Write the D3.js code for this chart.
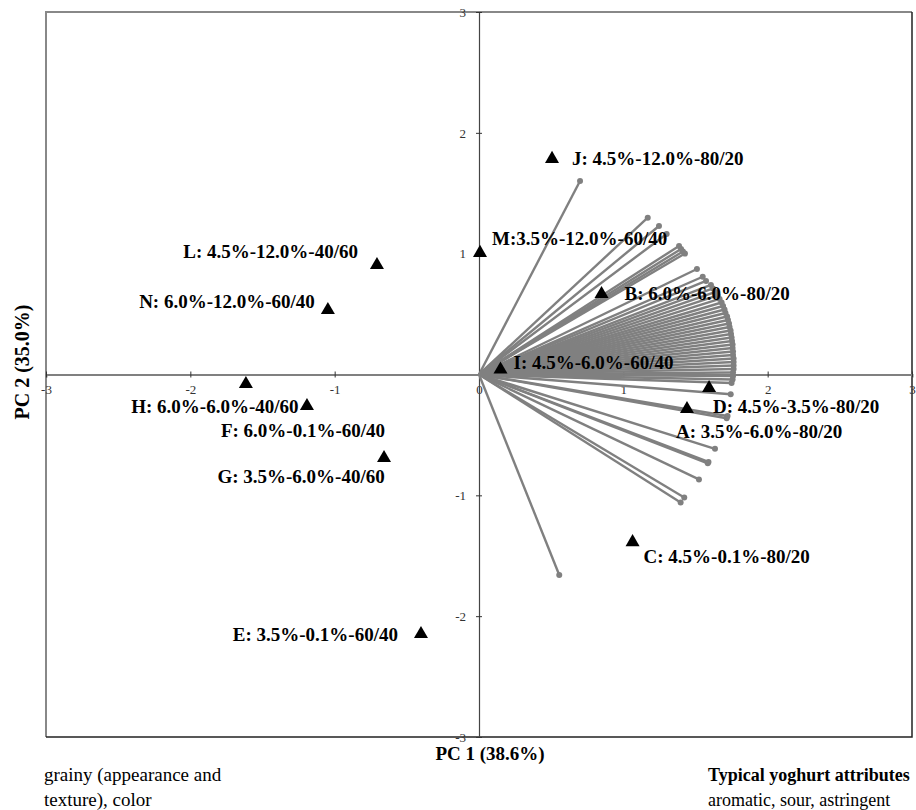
<!DOCTYPE html>
<html>
<head>
<meta charset="utf-8">
<script src="https://cdn.jsdelivr.net/npm/d3@7"></script>
<style>
  body { margin: 0; background: #fff; }
  svg text { font-family: "Liberation Serif", "Times New Roman", serif; }
</style>
</head>
<body>
<div class="chart"></div>
<script>
//Sample scores (triangles)
var sampleNames = ["J: 4.5%-12.0%-80/20", "M:3.5%-12.0%-60/40", "L: 4.5%-12.0%-40/60", "N: 6.0%-12.0%-60/40",
    "B: 6.0%-6.0%-80/20", "I: 4.5%-6.0%-60/40", "H: 6.0%-6.0%-40/60", "F: 6.0%-0.1%-60/40",
    "G: 3.5%-6.0%-40/60", "D: 4.5%-3.5%-80/20", "A: 3.5%-6.0%-80/20", "C: 4.5%-0.1%-80/20", "E: 3.5%-0.1%-60/40"];
var sampleX = [0.506, 0.007, -0.707, -1.047, 0.849, 0.149, -1.615, -1.192, -0.658, 1.594, 1.441, 1.064, -0.402];
var sampleY = [1.784, 1.006, 0.906, 0.534, 0.666, 0.041, -0.079, -0.261, -0.691, -0.112, -0.286, -1.387, -2.148];

//Attribute loadings (grey vectors)
var loadingX = [0.700, 1.169, 1.247, 1.300, 1.386, 1.400, 1.413, 1.427, 1.510, 1.550, 1.573,
    1.607, 1.621, 1.639, 1.653, 1.667, 1.681, 1.691, 1.701, 1.708, 1.719, 1.725, 1.732, 1.736, 1.743,
    1.746, 1.750, 1.753, 1.757, 1.757, 1.760, 1.760, 1.764, 1.764, 1.764, 1.764, 1.760, 1.760, 1.757, 1.750,
    1.744, 1.722, 1.716, 1.635, 1.590, 1.585, 1.524, 1.422, 1.397, 0.556];
var loadingY = [1.601, 1.298, 1.229, 1.163, 1.064, 1.039, 1.018, 1.001, 0.873, 0.809, 0.774,
    0.741, 0.712, 0.683, 0.654, 0.625, 0.596, 0.567, 0.538, 0.509, 0.480, 0.451, 0.422, 0.393, 0.364,
    0.335, 0.306, 0.277, 0.248, 0.219, 0.190, 0.161, 0.132, 0.103, 0.074, 0.046, 0.017, -0.012, -0.041, -0.070,
    -0.164, -0.343, -0.362, -0.615, -0.724, -0.735, -0.868, -1.018, -1.060, -1.659];

//Axis ticks and titles
var tickValues = [-3, -2, -1, 0, 1, 2, 3];
var xTitle = "PC 1 (38.6%)";
var yTitle = "PC 2 (35.0%)";
var leftNote = ["grainy (appearance and", "texture), color"];
var rightNoteTitle = "Typical yoghurt attributes";
var rightNote = "aromatic, sour, astringent";

//Width and height
var w = 916;
var h = 810;

var svg = d3.select(".chart")
    .append("svg")
    .attr("width", w)
    .attr("height", h);

var x = d3.scaleLinear().domain([-3, 3]).range([46, 912]);
var y = d3.scaleLinear().domain([-3, 3]).range([737, 12]);

var samples = sampleNames.map((n, i) => ({name: n, x: sampleX[i], y: sampleY[i]}));
var loadings = loadingX.map((v, i) => ({x: v, y: loadingY[i]}));

//Label placement relative to triangle (pixels)
var labelPos = {
    J: [20, 6, "start"], M: [12, -8, "start"], L: [-19, -7, "end"], N: [-13, -2, "end"],
    B: [23, 6, "start"], I: [13, -1, "start"], H: [-31, 29, "middle"], F: [-4, 31, "middle"],
    G: [-83, 25, "middle"], D: [4, 25, "start"], A: [-11, 29, "start"], C: [11, 21, "start"],
    E: [-23, 7, "end"]
};

//Plot frame
svg.append("path")
    .attr("d", `M${x(-3)},${y(-3)}V${y(3)}H${x(3)}`)
    .attr("fill", "none").attr("stroke", "#888").attr("stroke-width", 2);
svg.append("path")
    .attr("d", `M${x(3)},${y(3)}V${y(-3)}H${x(-3)}`)
    .attr("fill", "none").attr("stroke", "#222").attr("stroke-width", 1.5);

//X axis through origin
var xAxis = svg.append("g")
    .attr("transform", `translate(0, ${y(0)})`)
    .call(d3.axisBottom(x).tickValues(tickValues).tickSize(3).tickFormat(d3.format("d")));
xAxis.select(".domain").attr("stroke", "#808080").attr("stroke-width", 2);
xAxis.selectAll(".tick line").attr("y1", -3).attr("stroke", "#333");
xAxis.selectAll(".tick text")
    .attr("y", 10).attr("dy", "0.71em")
    .style("font-size", "13px").attr("fill", "#333")
    .text(d => d < 0 ? "-" + Math.abs(d) : d);

//Y axis through origin
var yAxis = svg.append("g")
    .attr("transform", `translate(${x(0)}, 0)`)
    .call(d3.axisLeft(y).tickValues(tickValues.filter(d => d !== 0)).tickSize(3));
yAxis.select(".domain").attr("stroke", "#444").attr("stroke-width", 1.2);
yAxis.selectAll(".tick line").attr("x1", 3).attr("x2", -3).attr("stroke", "#333");
yAxis.selectAll(".tick text")
    .attr("x", -13)
    .style("font-size", "13px").attr("fill", "#333")
    .text(d => d < 0 ? "-" + Math.abs(d) : d);

//Loading vectors
var vec = svg.append("g");
vec.selectAll("line")
    .data(loadings)
    .join("line")
    .attr("x1", x(0)).attr("y1", y(0))
    .attr("x2", d => x(d.x)).attr("y2", d => y(d.y))
    .attr("stroke", "#808080")
    .attr("stroke-width", 2.4);
vec.selectAll("circle")
    .data(loadings)
    .join("circle")
    .attr("cx", d => x(d.x)).attr("cy", d => y(d.y))
    .attr("r", 3)
    .attr("fill", "#808080");

//Sample triangles
var tri = d3.symbol().type(d3.symbolTriangle).size(85);
var pts = svg.append("g");
pts.selectAll("path")
    .data(samples)
    .join("path")
    .attr("d", tri)
    .attr("transform", d => `translate(${x(d.x)}, ${y(d.y)})`)
    .attr("fill", "#000");
pts.selectAll("text")
    .data(samples)
    .join("text")
    .attr("x", d => x(d.x) + labelPos[d.name[0]][0])
    .attr("y", d => y(d.y) + labelPos[d.name[0]][1])
    .attr("text-anchor", d => labelPos[d.name[0]][2])
    .style("font-size", "19px")
    .style("font-weight", "bold")
    .text(d => d.name);

//Axis titles
svg.append("text")
    .attr("x", 490).attr("y", 760)
    .attr("text-anchor", "middle")
    .style("font-size", "19px").style("font-weight", "bold")
    .text(xTitle);
svg.append("text")
    .attr("transform", "translate(29, 362) rotate(-90)")
    .attr("text-anchor", "middle")
    .style("font-size", "20px").style("font-weight", "bold")
    .text(yTitle);

//Notes under the plot
svg.append("g").selectAll("text")
    .data(leftNote)
    .join("text")
    .attr("x", 44).attr("y", (d, i) => 781 + i * 25)
    .style("font-size", "19px")
    .text(d => d);
svg.append("text")
    .attr("x", 708).attr("y", 781)
    .style("font-size", "18px").style("font-weight", "bold")
    .text(rightNoteTitle);
svg.append("text")
    .attr("x", 708).attr("y", 806)
    .style("font-size", "18px")
    .text(rightNote);
</script>
</body>
</html>
